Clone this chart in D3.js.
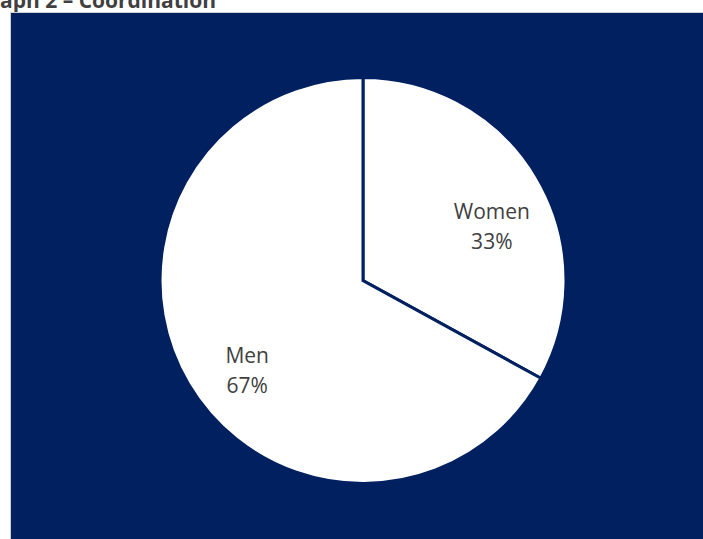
<!DOCTYPE html>
<html>
<head>
<meta charset="utf-8">
<script src="https://cdn.jsdelivr.net/npm/d3@7"></script>
<style>
  html, body { margin: 0; padding: 0; background: #ffffff; overflow: hidden; }
  svg { display: block; }
</style>
</head>
<body>
<svg id="chart" width="703" height="539"></svg>
<script>
// Gender split for coordination roles
const categories = ["Women", "Men"];
const shares = [33, 67];
const percentLabels = ["33%", "67%"];
const title = "Graph 2 – Coordination";

const W = 703, H = 539;
const navy = "#002060";
const textColor = "#404040";
const font = "Open Sans, sans-serif";

const svg = d3.select("#chart");

// Title sits partly off the page to the left and top
const titleText = svg.append("text")
  .attr("y", 8)
  .attr("font-family", font)
  .attr("font-weight", "bold")
  .attr("font-size", 21)
  .attr("fill", textColor)
  .text(title);
// shift so that the third glyph starts at the page's left edge
const lead = titleText.node().getSubStringLength(0, 2);
titleText.attr("x", -lead);

// Chart area
svg.append("rect")
  .attr("x", 10.5)
  .attr("y", 12.5)
  .attr("width", W)
  .attr("height", H)
  .attr("fill", navy)
  .attr("stroke", "#d0d0d0")
  .attr("stroke-width", 1);

const cx = 363, cy = 280.5, r = 203;

const pie = d3.pie().sort(null).value(d => d.value);
const arc = d3.arc().innerRadius(0).outerRadius(r);
const data = categories.map((c, i) => ({ name: c, value: shares[i], label: percentLabels[i] }));
const arcs = pie(data);

const g = svg.append("g").attr("transform", `translate(${cx},${cy})`);

g.selectAll("path")
  .data(arcs)
  .join("path")
  .attr("d", arc)
  .attr("fill", "#ffffff")
  .attr("stroke", navy)
  .attr("stroke-width", 3)
  .attr("stroke-linejoin", "miter");

// Category labels inside slices, two lines each
const labelArc = d3.arc().innerRadius(r * 0.7).outerRadius(r * 0.7);
const labels = g.selectAll("text.lbl")
  .data(arcs)
  .join("text")
  .attr("class", "lbl")
  .attr("transform", d => {
    const [x, y] = labelArc.centroid(d);
    return `translate(${x + 6.5},${y + 18.5})`;
  })
  .attr("text-anchor", "middle")
  .attr("font-family", font)
  .attr("font-size", 21)
  .attr("fill", textColor);

labels.append("tspan").attr("x", 0).attr("y", -8).text(d => d.data.name);
labels.append("tspan").attr("x", 0).attr("y", 22).text(d => d.data.label);
</script>
</body>
</html>
